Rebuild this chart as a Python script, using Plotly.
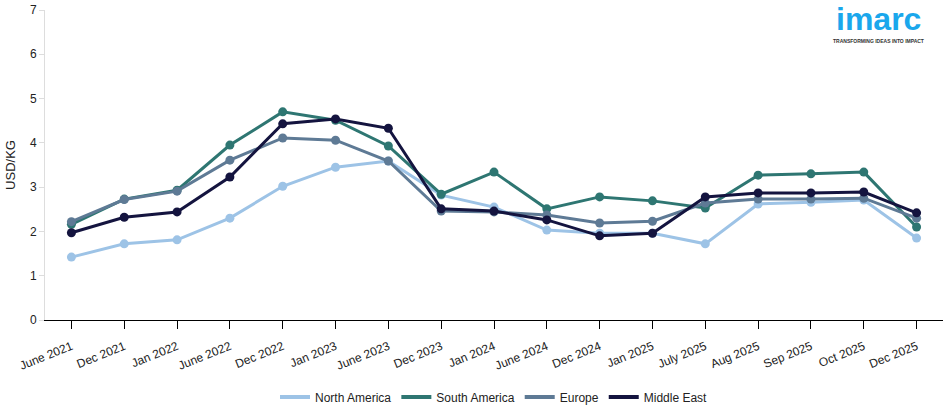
import plotly.graph_objects as go

categories = ["June 2021", "Dec 2021", "Jan 2022", "June 2022", "Dec 2022", "Jan 2023",
              "June 2023", "Dec 2023", "Jan 2024", "June 2024", "Dec 2024", "Jan 2025",
              "July 2025", "Aug 2025", "Sep 2025", "Oct 2025", "Dec 2025"]

north_america = [1.42, 1.72, 1.81, 2.30, 3.02, 3.45, 3.59, 2.82, 2.55, 2.03, 1.96, 1.96,
                 1.72, 2.62, 2.66, 2.71, 1.85]
south_america = [2.16, 2.73, 2.93, 3.95, 4.70, 4.51, 3.93, 2.84, 3.34, 2.51, 2.78, 2.69,
                 2.53, 3.27, 3.30, 3.34, 2.10]
europe = [2.22, 2.72, 2.91, 3.61, 4.11, 4.06, 3.59, 2.46, 2.44, 2.37, 2.19, 2.23,
          2.64, 2.73, 2.73, 2.75, 2.30]
middle_east = [1.97, 2.32, 2.44, 3.23, 4.43, 4.54, 4.33, 2.51, 2.46, 2.26, 1.90, 1.96,
               2.78, 2.87, 2.87, 2.89, 2.42]

series = [
    ("North America", north_america, "#9DC3E6"),
    ("South America", south_america, "#2E7672"),
    ("Europe", europe, "#5E7A95"),
    ("Middle East", middle_east, "#14143F"),
]

fig = go.Figure()
for name, vals, color in series:
    fig.add_trace(go.Scatter(
        x=categories, y=vals, name=name, mode="lines+markers",
        line=dict(color=color, width=3),
        marker=dict(color=color, size=9),
        showlegend=False,
    ))
# legend entries drawn as plain line swatches
for name, vals, color in series:
    fig.add_trace(go.Scatter(
        x=[None], y=[None], name=name, mode="lines",
        line=dict(color=color, width=4), showlegend=True,
    ))

fig.update_layout(
    width=950, height=414,
    margin=dict(l=45, r=7, t=10, b=94),
    paper_bgcolor="white", plot_bgcolor="white",
    font=dict(family="Liberation Sans, Arial, sans-serif", size=12, color="#222"),
    showlegend=True,
    legend=dict(orientation="h", x=0.5, xanchor="center",
                yref="container", y=0.041, yanchor="middle",
                font=dict(size=12, color="#222"), traceorder="normal",
                itemwidth=30, tracegroupgap=0),
    xaxis=dict(
        type="category", range=[-0.5, 16.5], automargin=False,
        showgrid=False, showline=True, linecolor="#000", linewidth=1,
        ticks="outside", ticklen=8, tickcolor="#000", tickangle=-22,
        ticklabelstandoff=6,
        tickfont=dict(size=12, color="#222"),
    ),
    yaxis=dict(
        range=[0, 7], dtick=1, showgrid=False, zeroline=False, automargin=False,
        showline=True, linecolor="#dddddd", linewidth=1,
        ticks="outside", ticklen=5, tickcolor="#dddddd",
        tickfont=dict(size=12, color="#222"),
        title=dict(text="USD/KG", font=dict(size=13, color="#222"), standoff=11),
    ),
)

fig.add_annotation(xref="paper", yref="paper", x=0.928, y=0.972, text="<b>imarc</b>",
                   showarrow=False, font=dict(size=32, color="#1AA7EC",
                   family="Liberation Sans, Arial, sans-serif"), xanchor="center", yanchor="middle")
fig.add_annotation(xref="paper", yref="paper", x=0.928, y=0.9,
                   text="<b>TRANSFORMING IDEAS INTO IMPACT</b>",
                   showarrow=False, font=dict(size=5, color="#333"), xanchor="center", yanchor="middle")

fig.write_html("out.html", config={"displayModeBar": False},
               post_script="document.body.style.margin='0';")
